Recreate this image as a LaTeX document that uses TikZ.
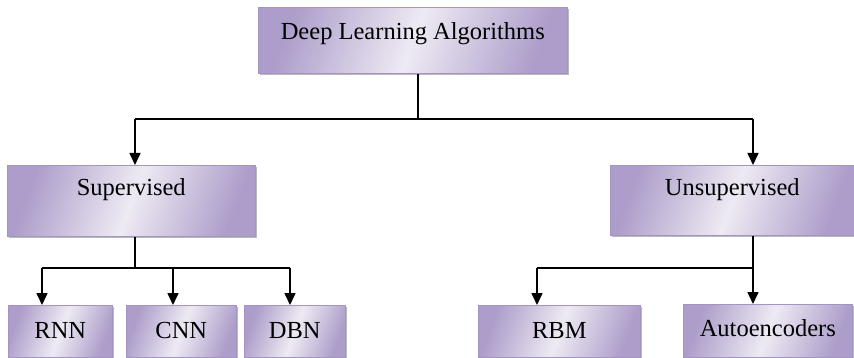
\documentclass[tikz,border=0pt]{standalone}
\usepackage{fontspec}
\setmainfont{Liberation Serif}
\usetikzlibrary{arrows.meta,shadows}
\definecolor{lavdark}{HTML}{AD9DCA}
\definecolor{lavlight}{HTML}{EEEAF3}
\definecolor{lavedge}{HTML}{A494C2}
\tikzset{
  box/.style={anchor=north west, inner sep=0pt, draw=lavedge, line width=0.6pt,
    left color=lavdark, right color=lavdark, middle color=lavlight, shading angle=70,
    drop shadow={shadow xshift=1.2pt, shadow yshift=-1.8pt, fill=black!45, opacity=0.6},
    font=\fontsize{24.5}{28}\selectfont, align=center},
  conn/.style={line width=1.6pt, black},
  arr/.style={conn, -{Triangle[width=11pt,length=12pt]}},
}
\begin{document}
\begin{tikzpicture}[x={(1pt,0)}, y={(0,-1pt)}]
\useasboundingbox (0,0) rectangle (854,358);
% boxes
\node[box, minimum width=309pt, minimum height=66pt, text height=32pt, text depth=34pt] (dl) at (258,7) {Deep Learning Algorithms};
\node[box, minimum width=248pt, minimum height=71pt, text height=30pt, text depth=41pt] (sup) at (7,165) {Supervised};
\node[box, minimum width=244pt, minimum height=70pt, text height=30pt, text depth=40pt] (uns) at (610,165) {Unsupervised};
\node[box, minimum width=104pt, minimum height=52pt, text height=33pt, text depth=19pt] (rnn) at (8,305) {RNN};
\node[box, minimum width=110pt, minimum height=52pt, text height=33pt, text depth=19pt] (cnn) at (126,305) {CNN};
\node[box, minimum width=101pt, minimum height=52pt, text height=33pt, text depth=19pt] (dbn) at (244,305) {DBN};
\node[box, minimum width=162pt, minimum height=52pt, text height=33pt, text depth=19pt] (rbm) at (478,305) {RBM};
\node[box, minimum width=169pt, minimum height=53pt, text height=32pt, text depth=21pt] (auto) at (683,304) {Autoencoders};
% bus coordinates
\coordinate (j0) at (418,119);
\coordinate (j0l) at (135,119);
\coordinate (j0r) at (753,119);
\coordinate (j1) at (135,268);
\coordinate (j1a) at (42,268);
\coordinate (j1b) at (173,268);
\coordinate (j1c) at (290,268);
\coordinate (j2) at (753,268);
\coordinate (j2a) at (537,268);
% connectors
\draw[conn] (dl.south -| j0) -- (j0);
\draw[conn] (j0l) -- (j0r);
\draw[arr] (j0l) -- (j0l |- sup.north);
\draw[arr] (j0r) -- (j0r |- uns.north);
\draw[conn] (sup.south -| j1) -- (j1);
\draw[conn] (j1a) -- (j1c);
\draw[arr] (j1a) -- (j1a |- rnn.north);
\draw[arr] (j1b) -- (j1b |- cnn.north);
\draw[arr] (j1c) -- (j1c |- dbn.north);
\draw[conn] (uns.south -| j2) -- (j2);
\draw[conn] (j2a) -- (j2);
\draw[arr] (j2a) -- (j2a |- rbm.north);
\draw[arr] (j2) -- (j2 |- auto.north);
\end{tikzpicture}
\end{document}
